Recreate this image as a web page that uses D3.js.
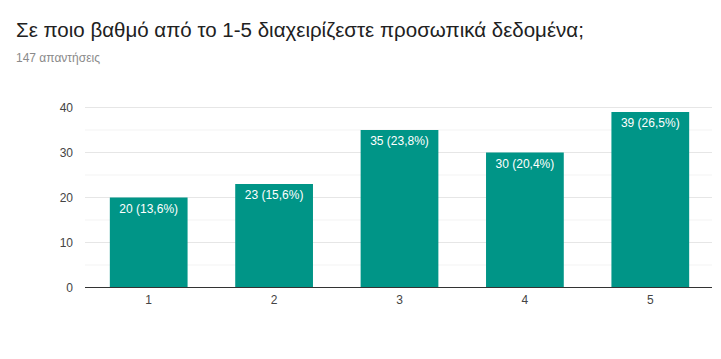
<!DOCTYPE html>
<html>
<head>
<meta charset="utf-8">
<script src="https://cdn.jsdelivr.net/npm/d3@7"></script>
<style>
  body { margin: 0; background: #fff; }
  svg { display: block; font-family: Arial, "Liberation Sans", sans-serif; }
</style>
</head>
<body>
<svg id="chart"></svg>
<script>
const categories = ["1", "2", "3", "4", "5"];
const counts = [20, 23, 35, 30, 39];
const percents = ["13,6%", "15,6%", "23,8%", "20,4%", "26,5%"];
const yTicks = [0, 10, 20, 30, 40];
const minorTicks = [5, 15, 25, 35];

const width = 721, height = 359;
const svg = d3.select("#chart").attr("width", width).attr("height", height);

svg.append("text")
  .attr("x", 16).attr("y", 37)
  .attr("font-size", 20.5)
  .attr("fill", "#212121")
  .text("Σε ποιο βαθμό από το 1-5 διαχειρίζεστε προσωπικά δεδομένα;");

svg.append("text")
  .attr("x", 16).attr("y", 62)
  .attr("font-size", 12)
  .attr("fill", "#8a8a8a")
  .text("147 απαντήσεις");

const x = d3.scaleBand()
  .domain(categories)
  .range([86, 713])
  .paddingInner(0.38)
  .paddingOuter(0.19);

const y = d3.scaleLinear()
  .domain([0, 40])
  .range([287.5, 107.5]);

// minor grid
svg.append("g")
  .selectAll("line")
  .data(minorTicks)
  .enter().append("line")
  .attr("x1", 85).attr("x2", 712)
  .attr("y1", d => y(d)).attr("y2", d => y(d))
  .attr("stroke", "#f3f3f3");

// major grid
svg.append("g")
  .selectAll("line")
  .data(yTicks.filter(d => d > 0))
  .enter().append("line")
  .attr("x1", 85).attr("x2", 712)
  .attr("y1", d => y(d)).attr("y2", d => y(d))
  .attr("stroke", "#e6e6e6");

const yAxis = d3.axisLeft(y).tickValues(yTicks).tickSize(0).tickPadding(12);
svg.append("g")
  .attr("transform", "translate(85,0)")
  .call(yAxis)
  .call(g => g.select(".domain").remove())
  .call(g => g.selectAll("text").attr("font-size", 12).attr("fill", "#444").attr("font-family", "Arial, 'Liberation Sans', sans-serif"));

svg.append("g")
  .selectAll("rect")
  .data(counts)
  .enter().append("rect")
  .attr("x", (d, i) => x(categories[i]))
  .attr("y", d => y(d))
  .attr("width", x.bandwidth())
  .attr("height", d => y(0) - y(d))
  .attr("fill", "#009587");

svg.append("g")
  .selectAll("text")
  .data(counts)
  .enter().append("text")
  .attr("x", (d, i) => x(categories[i]) + x.bandwidth() / 2)
  .attr("y", d => y(d) + 15)
  .attr("text-anchor", "middle")
  .attr("font-size", 12)
  .attr("fill", "#fff")
  .text((d, i) => `${d} (${percents[i]})`);

const xAxis = d3.axisBottom(x).tickSize(0).tickPadding(8);
svg.append("g")
  .attr("transform", `translate(0,${y(0)})`)
  .call(xAxis)
  .call(g => g.select(".domain").attr("stroke", "#333").attr("d", "M85,0H712"))
  .call(g => g.selectAll("text").attr("font-size", 12).attr("fill", "#444").attr("font-family", "Arial, 'Liberation Sans', sans-serif"));
</script>
</body>
</html>
